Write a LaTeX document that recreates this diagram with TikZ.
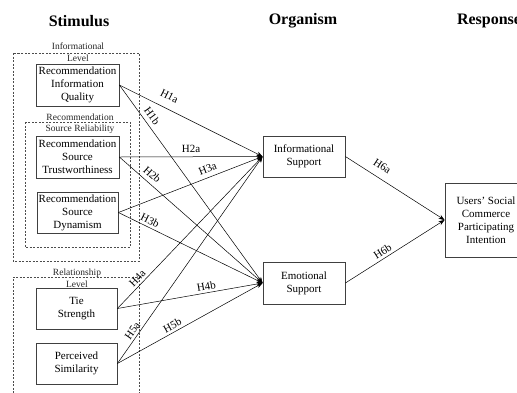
\documentclass[tikz,border=0pt]{standalone}
\usepackage{fontspec}
\setmainfont{Liberation Serif}
\usetikzlibrary{arrows.meta}
\begin{document}
\begin{tikzpicture}[x=1pt,y=-1pt,
 box/.style={draw=black!75, line width=0.8pt, inner sep=0pt, font=\fontsize{11}{13}\selectfont, align=center},
 grp/.style={draw=black!70, dash pattern=on 2pt off 1.5pt, line width=0.5pt},
 grplbl/.style={font=\fontsize{9.5}{11.5}\selectfont, align=center, inner sep=0pt, text=black!85},
 ttl/.style={font=\fontsize{16}{18}\selectfont\bfseries, inner sep=0pt},
 arr/.style={-{Stealth[length=6pt,width=4.5pt]}, line width=0.5pt},
 hl/.style={font=\fontsize{11}{13}\selectfont, sloped, above, inner sep=2.5pt}]
\useasboundingbox (0,0) rectangle (517,392);

% titles
\node[ttl] (tS) at (79,21) {Stimulus};
\node[ttl] (tO) at (303,21) {Organism};
\node[ttl] (tR) at (489,21) {Response};

% group frames
\draw[grp] (13,53) rectangle (139,261);
\draw[grp] (25,122) rectangle (130,247);
\draw[grp] (13,400) |- (139,277) -- (139,400);
\node[grplbl] (gInfo) at (78,52) {Informational\\Level};
\node[grplbl] (gRel) at (80,123.5) {Recommendation\\Source Reliability};
\node[grplbl] (gRship) at (77,278) {Relationship\\Level};

% boxes
\node[box, minimum width=83pt, minimum height=42pt] (riq) at (77.5,85) {Recommendation\\Information\\Quality};
\node[box, minimum width=83pt, minimum height=42pt] (rst) at (77.5,157) {Recommendation\\Source\\Trustworthiness};
\node[box, minimum width=81pt, minimum height=41pt] (rsd) at (77.5,212.5) {Recommendation\\Source\\Dynamism};
\node[box, minimum width=81pt, minimum height=41pt] (ts) at (76.5,308.5) {Tie\\Strength};
\node[box, minimum width=81pt, minimum height=41pt] (ps) at (76.5,363.5) {Perceived\\Similarity};
\node[box, minimum width=82pt, minimum height=41pt] (info) at (304,156.5) {Informational\\Support};
\node[box, minimum width=82pt, minimum height=42pt] (emo) at (304,283) {Emotional\\Support};
\node[box, minimum width=82pt, minimum height=74pt] (resp) at (486,220) {Users’ Social\\Commerce\\Participating\\Intention};

% connectors
\draw[arr] (riq.east) -- node[hl, pos=0.31, above=6pt] {H1a} (info.west);
\draw[arr] (riq.east) -- node[hl, pos=0.18, above=2pt] {H1b} (emo.west);
\draw[arr] (rst.east) -- node[hl, pos=0.5, above=1.5pt] {H2a} (info.west);
\draw[arr] (rst.east) -- node[hl, pos=0.19, above=2pt] {H2b} (emo.west);
\draw[arr] (rsd.east) -- node[hl, pos=0.64, above=2pt] {H3a} (info.west);
\draw[arr] (rsd.east) -- node[hl, pos=0.2] {H3b} (emo.west);
\draw[arr] (ts.east) -- node[hl, pos=0.17] {H4a} (info.west);
\draw[arr] (ts.east) -- node[hl, pos=0.62] {H4b} (emo.west);
\draw[arr] (ps.east) -- node[hl, pos=0.14] {H5a} (info.west);
\draw[arr] (ps.east) -- node[hl, pos=0.4] {H5b} (emo.west);
\draw[arr] (info.east) -- node[hl, pos=0.31, above=5pt] {H6a} (resp.west);
\draw[arr] (emo.east) -- node[hl, pos=0.41] {H6b} (resp.west);
\end{tikzpicture}
\end{document}
